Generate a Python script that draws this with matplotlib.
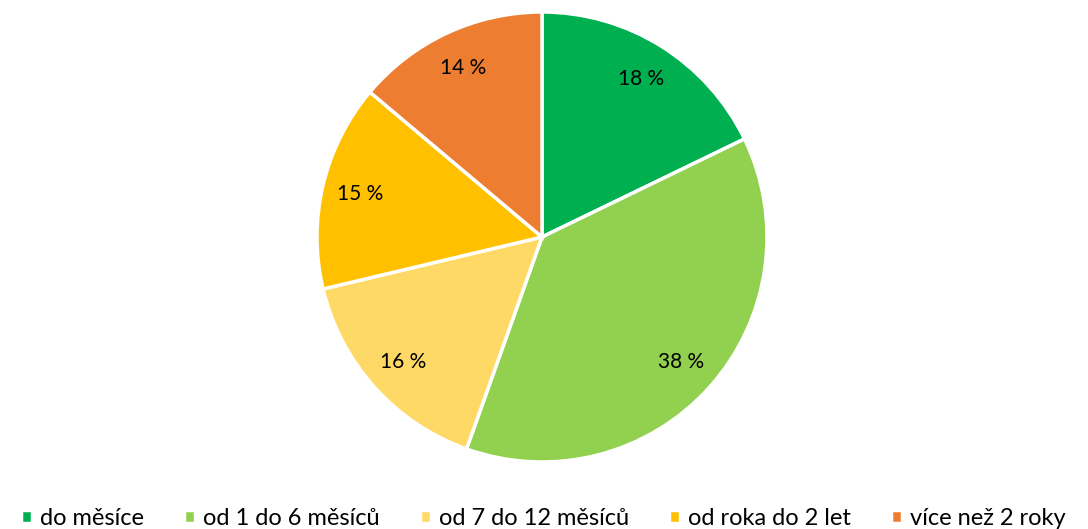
import matplotlib
matplotlib.use("Agg")
import matplotlib.pyplot as plt

# data
labels = ["do měsíce", "od 1 do 6 měsíců", "od 7 do 12 měsíců", "od roka do 2 let", "více než 2 roky"]
shares = [18, 38, 16, 15, 14]
colors = ["#00B050", "#92D050", "#FFD966", "#FFC000", "#ED7D31"]

plt.rcParams['font.family'] = ['Lato', 'DejaVu Sans']

fig = plt.figure(figsize=(10.88, 5.29), dpi=100)
ax = fig.add_axes([317 / 1088, 1 - 462 / 529, 450 / 1088, 450 / 529])

wedges, texts, autotexts = ax.pie(
    shares, colors=colors, startangle=90, counterclock=False,
    autopct=lambda p: "%d %%" % round(p * sum(shares) / 100),
    pctdistance=0.83, radius=1,
    wedgeprops=dict(edgecolor="white", linewidth=2.5),
    textprops=dict(fontsize=15, color="black"))
ax.set_xlim(-1, 1)
ax.set_ylim(-1, 1)
ax.set_aspect("equal")

fig.legend(wedges, labels, loc="lower left", bbox_to_anchor=(0.0, -0.04), ncol=5,
           frameon=False, fontsize=17, handlelength=0.45, handleheight=0.45,
           handletextpad=0.35, columnspacing=1.7)

fig.savefig("out.png", dpi=100)
